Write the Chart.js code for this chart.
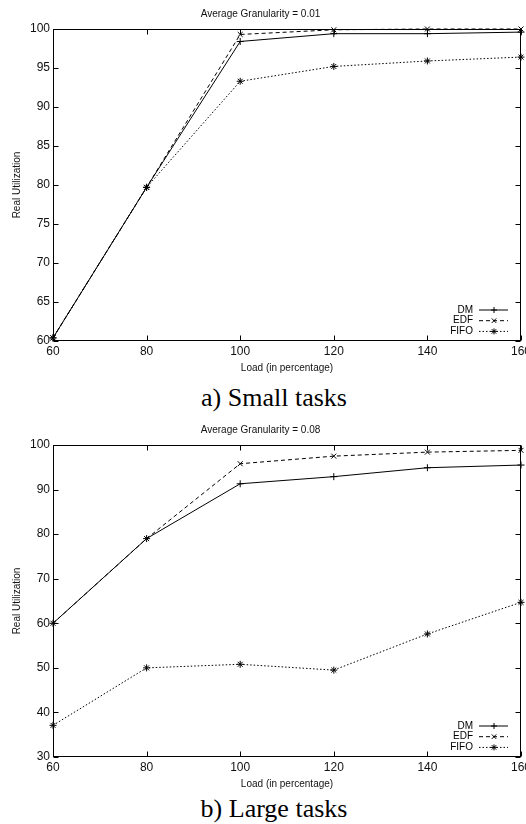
<!DOCTYPE html>
<html>
<head>
<meta charset="utf-8">
<script src="https://cdn.jsdelivr.net/npm/chart.js@4.4.1/dist/chart.umd.min.js"></script>
<style>
  html, body { margin: 0; padding: 0; background: #fff; overflow: hidden; width: 526px; height: 824px; }
  .plot { position: absolute; left: 0; width: 540px; height: 375px; }
  .caption { position: absolute; left: 0; width: 548px; text-align: center; font-family: 'Liberation Serif', 'Times New Roman', serif; font-size: 26px; line-height: 26px; color: #000; }
</style>
</head>
<body>
<div class="plot" style="top:0"><canvas id="small"></canvas></div>
<div class="caption" style="top:385px">a) Small tasks</div>
<div class="plot" style="top:416px"><canvas id="large"></canvas></div>
<div class="caption" style="top:796px">b) Large tasks</div>
<script>
const loads = [60, 80, 100, 120, 140, 160]
const seriesNames = ['DM', 'EDF', 'FIFO']

// a) small tasks, granularity 0.01
const smallDM   = [60.4, 79.7, 98.4, 99.4, 99.4, 99.6]
const smallEDF  = [60.4, 79.7, 99.3, 99.9, 100, 100]
const smallFIFO = [60.4, 79.7, 93.3, 95.2, 95.9, 96.4]

// b) large tasks, granularity 0.08
const largeDM   = [60, 79, 91.3, 92.9, 94.9, 95.5]
const largeEDF  = [60, 79, 95.8, 97.5, 98.4, 98.8]
const largeFIFO = [37.1, 50.0, 50.8, 49.5, 57.6, 64.7]

const FONT = "'Liberation Sans', Arial, Helvetica, sans-serif"
const styles = [
  { dash: [], point: 'cross' },
  { dash: [4, 3], point: 'crossRot' },
  { dash: [1.5, 2], point: 'star' },
]

function marker(ctx, kind, x, y, r) {
  ctx.beginPath()
  if (kind !== 'crossRot') {
    ctx.moveTo(x - r, y); ctx.lineTo(x + r, y)
    ctx.moveTo(x, y - r); ctx.lineTo(x, y + r)
  }
  if (kind !== 'cross') {
    const d = r * 0.75
    ctx.moveTo(x - d, y - d); ctx.lineTo(x + d, y + d)
    ctx.moveTo(x - d, y + d); ctx.lineTo(x + d, y - d)
  }
  ctx.stroke()
}

// gnuplot-like box with inward tick marks, plus the legend in the corner
const framePlugin = {
  id: 'frame',
  beforeDatasetsDraw(chart) {
    const {ctx, chartArea: a, scales: {x, y}} = chart
    const L = Math.round(a.left) + 0.5, R = Math.round(a.right) - 0.5
    const T = Math.round(a.top) + 0.5, B = Math.round(a.bottom) - 0.5
    ctx.save()
    ctx.strokeStyle = '#000'
    ctx.lineWidth = 1
    ctx.strokeRect(L, T, R - L, B - T)
    ctx.beginPath()
    x.ticks.forEach(t => {
      const px = Math.round(x.getPixelForValue(t.value)) + 0.5
      ctx.moveTo(px, B); ctx.lineTo(px, B - 5)
      ctx.moveTo(px, T); ctx.lineTo(px, T + 5)
    })
    y.ticks.forEach(t => {
      const py = Math.round(y.getPixelForValue(t.value)) + 0.5
      ctx.moveTo(L, py); ctx.lineTo(L + 5, py)
      ctx.moveTo(R, py); ctx.lineTo(R - 5, py)
    })
    ctx.stroke()
    ctx.restore()
  },
  afterDatasetsDraw(chart) {
    const {ctx, chartArea: a} = chart
    ctx.save()
    ctx.font = '10px ' + FONT
    ctx.fillStyle = '#000'
    ctx.strokeStyle = '#000'
    ctx.lineWidth = 1
    ctx.textAlign = 'right'
    ctx.textBaseline = 'middle'
    seriesNames.forEach((name, i) => {
      const yy = a.bottom - 31 + i * 10.7
      ctx.fillText(name, a.right - 48, yy)
      ctx.setLineDash(styles[i].dash)
      ctx.beginPath()
      ctx.moveTo(a.right - 42, yy); ctx.lineTo(a.right - 13, yy)
      ctx.stroke()
      ctx.setLineDash([])
      marker(ctx, styles[i].point, a.right - 27, yy, 3)
    })
    ctx.restore()
  }
}

function makeChart(id, title, yMin, yMax, yStep, series) {
  const datasets = series.map((vals, i) => ({
    label: seriesNames[i],
    data: loads.map((l, k) => ({ x: l, y: vals[k] })),
    borderColor: '#000',
    backgroundColor: '#000',
    borderWidth: 1,
    borderDash: styles[i].dash,
    pointStyle: styles[i].point,
    pointRadius: 3.5,
    pointBorderWidth: 1,
    pointBorderColor: '#000',
    tension: 0,
    clip: false,
  }))

  return new Chart(document.getElementById(id), {
    type: 'line',
    data: { datasets },
    plugins: [framePlugin],
    options: {
      responsive: true,
      maintainAspectRatio: false,
      animation: false,
      layout: { padding: { left: 0, right: 19, top: 0, bottom: 0 } },
      scales: {
        x: {
          type: 'linear',
          min: 60, max: 160,
          grid: { display: false, drawTicks: false },
          border: { display: false },
          ticks: { stepSize: 20, padding: 3, color: '#111', font: { family: FONT, size: 12 } },
          title: { display: true, text: 'Load (in percentage)', color: '#111', padding: { top: 0, bottom: 1 }, font: { family: FONT, size: 10 } },
          afterFit: s => { s.height = 34 },
        },
        y: {
          min: yMin, max: yMax,
          grid: { display: false, drawTicks: false },
          border: { display: false },
          ticks: { stepSize: yStep, padding: 3, color: '#111', font: { family: FONT, size: 12 } },
          title: { display: true, text: 'Real Utilization', color: '#111', padding: { top: 11, bottom: 0 }, font: { family: FONT, size: 10 } },
          afterFit: s => { s.width = 53 },
        },
      },
      plugins: {
        legend: { display: false },
        tooltip: { enabled: false },
        title: { display: true, text: title, color: '#111', padding: { top: 8, bottom: 9 }, font: { family: FONT, size: 10, weight: 'normal' } },
      },
    },
  })
}

makeChart('small', 'Average Granularity = 0.01', 60, 100, 5, [smallDM, smallEDF, smallFIFO])
makeChart('large', 'Average Granularity = 0.08', 30, 100, 10, [largeDM, largeEDF, largeFIFO])
</script>
</body>
</html>
